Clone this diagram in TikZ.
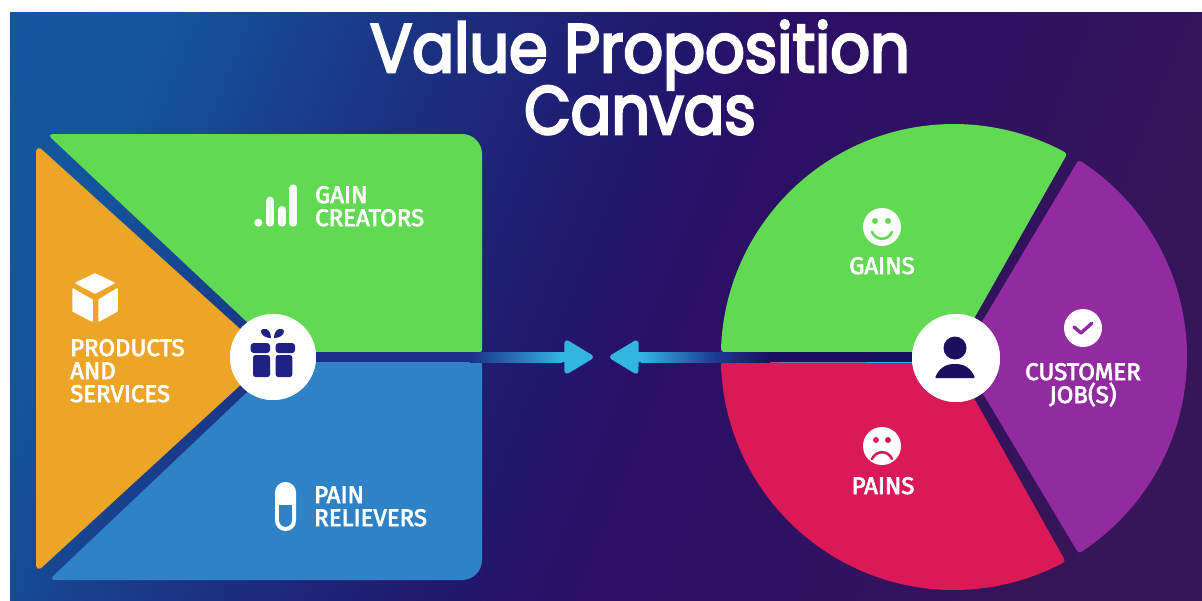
\documentclass[tikz,border=0pt]{standalone}
\usepackage{fontspec}
\setmainfont{Fira Sans}
\newfontfamily\titlefont{Poppins}[FakeBold=4]
\newfontfamily\labelfont{Fira Sans}[FakeBold=3]
\usetikzlibrary{arrows.meta}
\definecolor{cgreen}{HTML}{62D952}
\definecolor{corange}{HTML}{ECA527}
\definecolor{cblue}{HTML}{2F82C6}
\definecolor{cred}{HTML}{D91A56}
\definecolor{cpurple}{HTML}{922B9F}
\definecolor{ccyan}{HTML}{33B5E2}
\definecolor{cgift}{HTML}{1F2183}
\definecolor{cperson}{HTML}{1D0F5F}
\definecolor{cdarkL}{HTML}{1C2F88}
\definecolor{cmidR}{HTML}{1C3A92}
\definecolor{cgap}{HTML}{1C1060}
\pgfdeclarehorizontalshading{bgshade}{100bp}{
  rgb(0bp)=(0.06,0.38,0.66);
  rgb(25bp)=(0.075,0.33,0.61);
  rgb(37bp)=(0.11,0.19,0.51);
  rgb(47bp)=(0.125,0.10,0.44);
  rgb(53bp)=(0.165,0.06,0.40);
  rgb(75bp)=(0.21,0.08,0.35);
  rgb(100bp)=(0.23,0.09,0.33)}
\tikzset{
  x=1pt,y=-1pt,
  soft/.style={line join=round,line width=#1},
  blob/.style={fill=#1,draw=#1},
  label/.style={text=white,font=\labelfont\fontsize{24}{23}\selectfont,inner sep=0pt,align=left},
  clabel/.style={label,align=center},
  title/.style={text=white,font=\titlefont\fontsize{68}{63}\selectfont,inner sep=0pt,align=center},
  disc/.style={circle,fill=white,inner sep=0pt,minimum size=#1},
  flow/.style={draw=ccyan,line width=10pt,-{Triangle[length=31pt,width=36pt,line width=5pt,round]}},
}
\begin{document}
\begin{tikzpicture}
\useasboundingbox (0,0) rectangle (1202,600);
\fill[white] (0,0) rectangle (1202,600);
\shade[shading=bgshade,shading angle=-22] (10,12) rectangle (1202,600);
% left canvas
\path[blob=cgreen,soft=4pt] (52,136) -- (462,136) arc[start angle=90,end angle=0,radius=18pt] -- (480,350) -- (279.7,350) -- cycle;
\path[blob=cblue,soft=4pt] (54,578) -- (462,578) arc[start angle=270,end angle=360,radius=18pt] -- (480,364) -- (279.7,364) -- cycle;
\path[blob=corange,soft=6pt] (39,151) -- (266.6,357) -- (39,566) -- cycle;
% right circle
\path[blob=cgreen,soft=6pt] (953.4,349) -- (724,349) arc[start angle=178,end angle=61.6,radius=230pt] -- cycle;
\path[blob=cred,soft=6pt] (952,365) -- (724,365) arc[start angle=182,end angle=297.9,radius=230pt] -- cycle;
\path[blob=cpurple,soft=6pt] (964.5,357) -- (1079.6,164) arc[start angle=56.9,end angle=-56.9,radius=230pt] -- cycle;
% discs
\node[disc=86pt] (gift) at (273,357) {};
\node[disc=88pt] (person) at (956,358) {};
\coordinate (tipL) at (593,357);
\coordinate (tipR) at (610,357);
% connectors
\draw[flow] (gift) -- (tipL);
\draw[flow] (person) -- (tipR);
\fill[cdarkL] (316,352) rectangle (470,362);
\shade[left color=cdarkL,right color=ccyan] (470,352) rectangle (562,362);
\shade[left color=ccyan,right color=cmidR] (641,352) rectangle (715,362);
\shade[left color=cmidR,right color=cgap] (715,352) rectangle (770,362);
\fill[cgap] (770,352) rectangle (912,362);
% redraw discs on top
\node[disc=86pt] at (gift) {};
\node[disc=88pt] at (person) {};
% gift icon
\begin{scope}[cgift]
\fill[rounded corners=3pt] (250.7,343) rectangle (270,353);
\fill[rounded corners=3pt] (275.7,343) rectangle (295,353);
\fill[rounded corners=2.5pt] (253,355) rectangle (270,377);
\fill[rounded corners=2.5pt] (275.7,355) rectangle (292.3,377);
\fill (271,338) .. controls (262,338) and (258,330) .. (263,329) .. controls (268,328) and (271,332) .. (271,338) -- cycle;
\fill (274,338) .. controls (283,338) and (287,330) .. (282,329) .. controls (277,328) and (274,332) .. (274,338) -- cycle;
\end{scope}
% person icon
\fill[cperson] (955,348) circle[radius=11.5pt];
\fill[cperson,rounded corners=1pt] (935,378) .. controls (939,368) and (946,364) .. (955,364) .. controls (964,364) and (971,368) .. (975,378) -- cycle;
% bars icon
\fill[white] (258.3,222.7) circle[radius=4pt];
\draw[white,line width=8pt,line cap=round] (270,200.7) -- (270,222.7);
\draw[white,line width=8pt,line cap=round] (282,210) -- (282,222.7);
\draw[white,line width=8pt,line cap=round] (293.3,188.3) -- (293.3,222.7);
% capsule icon
\fill[white,rounded corners=10.4pt] (275,482) rectangle (296,531);
\fill[cblue,rounded corners=7pt] (279,505) -- (292,505) -- (292,527) -- (279,527) -- cycle;
\fill[cblue] (279,505) rectangle (292,512);
% cube icon
\begin{scope}[white,line join=round,line width=1.5pt]
\filldraw (95,274) -- (114,283) -- (95,293) -- (76,283) -- cycle;
\filldraw (73,289) -- (92,300) -- (92,321) -- (73,311) -- cycle;
\filldraw (99,300) -- (117,289) -- (117,311) -- (99,321) -- cycle;
\end{scope}
% smile
\fill[white] (882,227) circle[radius=19pt];
\fill[cgreen] (875,221) circle[radius=3pt] (888,221) circle[radius=3pt];
\draw[cgreen,line width=2.6pt,line cap=round] (872,232) .. controls (876,241) and (888,241) .. (892,232);
% frown
\fill[white] (882,446) circle[radius=19pt];
\fill[cred] (876,440) circle[radius=3pt] (888,440) circle[radius=3pt];
\draw[cred,line width=2.6pt,line cap=round] (872,459) .. controls (876,450) and (888,450) .. (892,459);
% check
\fill[white] (1083,328) circle[radius=19pt];
\draw[cpurple,line width=3.4pt,line cap=round,line join=round] (1074,327) -- (1081,333) -- (1092,323);
% text
\node[title,anchor=base] (t1) at (640,72) {\scalebox{0.913}[1]{Value Proposition}};
\node[title,anchor=base] (t2) at (640,134) {\scalebox{0.885}[1]{Canvas}};
\node[label,anchor=base west] (lg1) at (315,203) {GAIN};
\node[label,anchor=base west] (lg2) at (315,226) {CREATORS};
\node[label,anchor=base west] (lp1) at (70,356) {PRODUCTS};
\node[label,anchor=base west] (lp2) at (70,379) {AND};
\node[label,anchor=base west] (lp3) at (70,402) {SERVICES};
\node[label,anchor=base west] (lr1) at (314,503) {PAIN};
\node[label,anchor=base west] (lr2) at (314,526) {RELIEVERS};
\node[clabel,anchor=base] (lga) at (882,274) {GAINS};
\node[clabel,anchor=base] (lpa) at (883,494) {PAINS};
\node[clabel,anchor=base] (lc1) at (1083,380) {CUSTOMER};
\node[clabel,anchor=base] (lc2) at (1083,403) {JOB(S)};
\end{tikzpicture}
\end{document}
